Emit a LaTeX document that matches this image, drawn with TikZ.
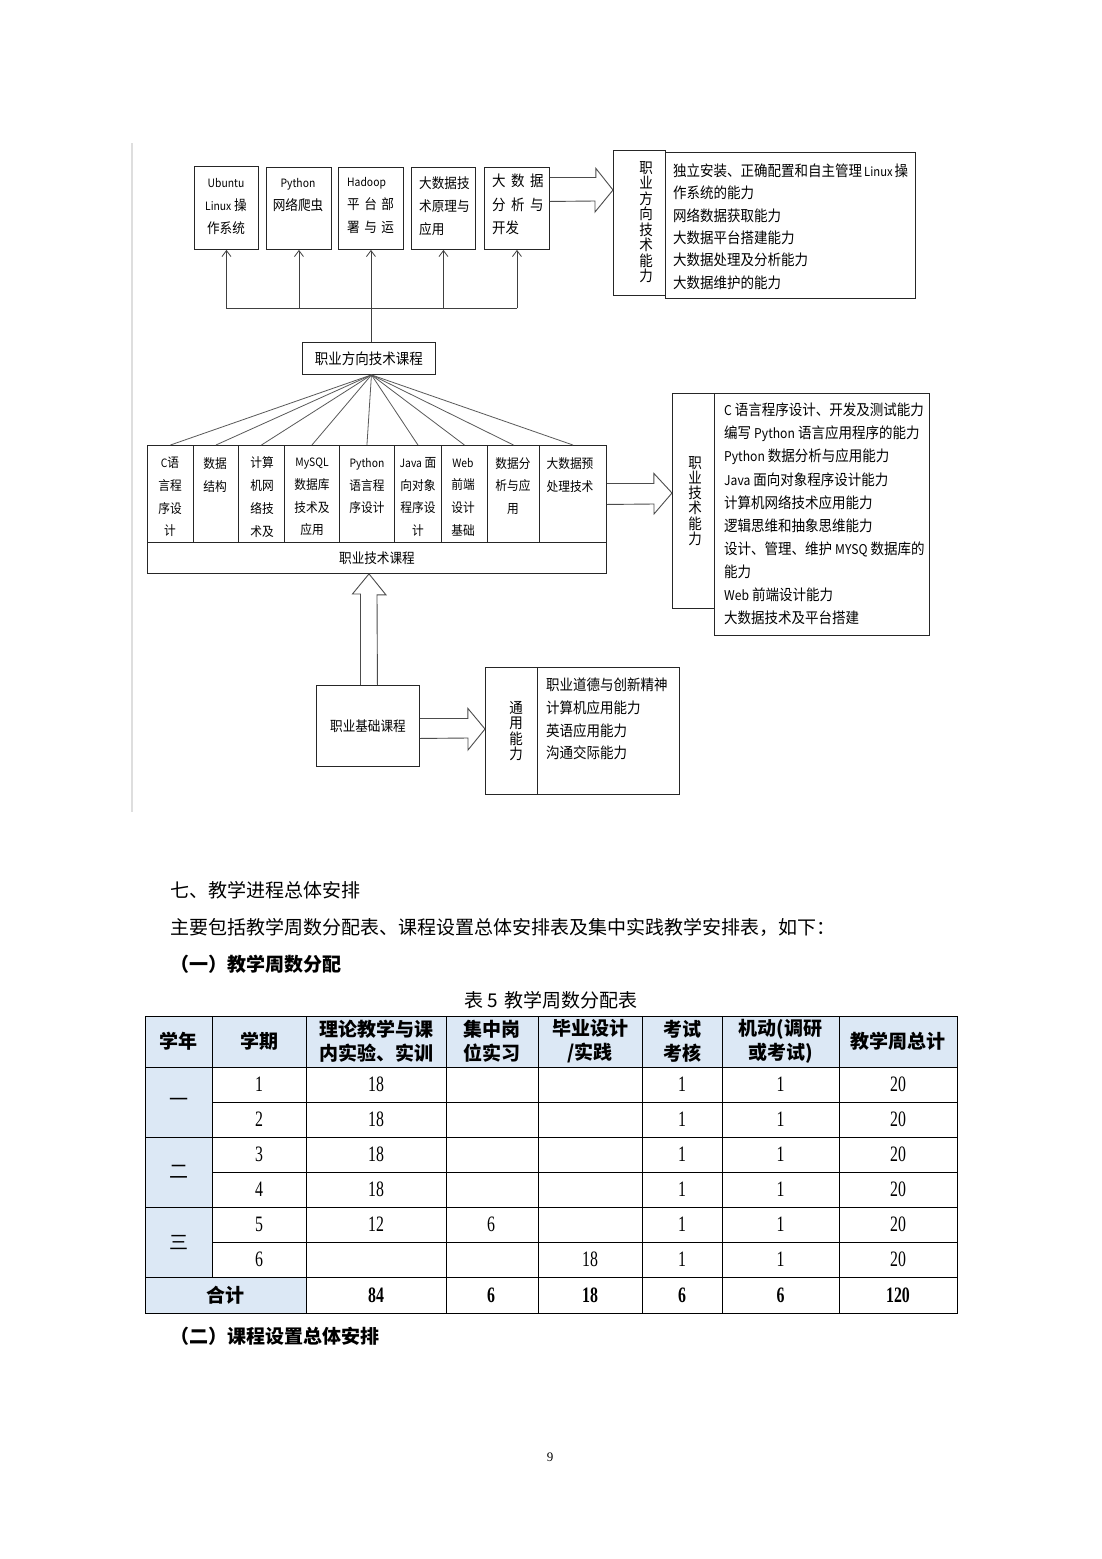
\documentclass[tikz,border=0pt]{standalone}
\usepackage{fontspec}
\setmainfont{Liberation Serif}
\newfontfamily\dfont{Noto Sans CJK SC}[FakeStretch=0.9]
\newfontfamily\cjk{Noto Sans CJK SC}
\newfontfamily\numfont{Liberation Serif}[FakeStretch=0.72]
\usetikzlibrary{arrows.meta}
\newcommand\smtxt[1]{{\fontsize{11.5}{\baselineskip}\selectfont #1}}
\newcommand\mdtxt[1]{{\fontsize{13.5}{\baselineskip}\selectfont #1}}
\newcommand\gp{\hspace{4.5pt}}
\definecolor{hdrblue}{RGB}{220,232,245}
\begin{document}
\begin{tikzpicture}[x=1pt,y=-1pt,
  box/.style={draw=black!85, line width=0.9pt, inner sep=0pt, anchor=north west},
  dt/.style={font=\dfont\fontsize{14}{23}\selectfont, inner sep=0pt, align=center},
  ct/.style={font=\dfont\fontsize{13}{22.7}\selectfont, inner sep=0pt, align=center},
  rt/.style={font=\dfont\fontsize{15}{22.6}\selectfont, inner sep=0pt, align=left, anchor=west},
  vt/.style={font=\dfont\fontsize{15}{15.5}\selectfont, inner sep=0pt, align=center},
  conn/.style={draw=black!75, line width=0.8pt},
  uparr/.style={conn, -{Straight Barb[length=6pt,width=9pt]}},
  fan/.style={draw=black!65, line width=0.8pt},
  hollow/.style={draw=black!70, line width=0.9pt, line join=miter},
  grid/.style={draw=black, line width=0.9pt},
  hd/.style={font=\cjk\bfseries\fontsize{19}{24}\selectfont, inner sep=0pt, align=center},
  num/.style={font=\numfont\fontsize{22}{24}\selectfont, inner sep=0pt},
  numb/.style={font=\numfont\bfseries\fontsize{22}{24}\selectfont, inner sep=0pt},
  body/.style={font=\cjk\fontsize{19}{24}\selectfont, inner sep=0pt, anchor=west},
  bodyb/.style={font=\cjk\bfseries\fontsize{19}{24}\selectfont, inner sep=0pt, anchor=west}
]
\useasboundingbox (0,0) rectangle (1102,1559);
\fill[white] (0,0) rectangle (1102,1559);

% side rule
\draw[black!13, line width=2pt] (132,143) -- (132,812);

% ---- top course boxes
\node[box, minimum width=64pt, minimum height=83pt] (t1) at (194,166) {};
\node[box, minimum width=65pt, minimum height=82pt] (t2) at (266,167) {};
\node[box, minimum width=65pt, minimum height=82pt] (t3) at (338,167) {};
\node[box, minimum width=64pt, minimum height=82pt] (t4) at (411,167) {};
\node[box, minimum width=65pt, minimum height=82pt] (t5) at (484,167) {};
\node[dt] (t1x) at (226,206) {\smtxt{Ubuntu}\\\smtxt{Linux} 操\\作系统};
\node[dt] (t2x) at (298,195.5) {\smtxt{Python}\\网络爬虫};
\node[dt, align=left, anchor=west] (t3x) at (347,206) {\smtxt{Hadoop}\\平\gp 台\gp 部\\署\gp 与\gp 运};
\node[dt, align=left, anchor=west] (t4x) at (419,206) {大数据技\\术原理与\\应用};
\node[dt, font=\dfont\fontsize{15}{23.5}\selectfont, align=left, anchor=west] (t5x) at (492,204.5) {大\hspace{5.5pt}数\hspace{5.5pt}据\\分\hspace{5.5pt}析\hspace{5.5pt}与\\开发};

% top ability boxes
\node[box, minimum width=52pt, minimum height=145pt] (l1) at (613,150) {};
\node[box, minimum width=250pt, minimum height=146pt] (r1) at (665,152) {};
\node[vt] (v1) at (646,222) {职\\业\\方\\向\\技\\术\\能\\力};
\node[rt, font=\dfont\fontsize{15}{22.4}\selectfont] (r1x) at (673,226.5) {独立安装、正确配置和自主管理\hspace{2pt}{\fontsize{12.5}{\baselineskip}\selectfont Linux}\hspace{2pt}操\\作系统的能力\\网络数据获取能力\\大数据平台搭建能力\\大数据处理及分析能力\\大数据维护的能力};

% hollow arrow to top ability box
\draw[hollow] ([yshift=31pt]t5.east) -- ++(46,0) -- ++(0,-9) -- (l1.west |- 0,190) -- ++(-18,22) -- ++(0,-11) -- ([yshift=7pt]t5.east);

% ---- direction course box and connectors
\node[box, minimum width=133pt, minimum height=32pt, font=\dfont\fontsize{15}{18}\selectfont] (pf) at (302,342) {职业方向技术课程};
\coordinate (bus) at (0,308);
\draw[conn] ([xshift=2.5pt]pf.north) -- ([xshift=2.5pt]pf.north |- bus);
\draw[conn] (t1.south |- bus) -- (t5.south |- bus);
\foreach \b in {t1,t2,t3,t4,t5} {
  \draw[uparr] (\b.south |- bus) -- (\b.south);
}

% ---- professional course boxes
\node[box, minimum width=46pt, minimum height=97pt] (c1) at (147,445) {};
\node[box, minimum width=45pt, minimum height=97pt] (c2) at (193,445) {};
\node[box, minimum width=46pt, minimum height=97pt] (c3) at (238,445) {};
\node[box, minimum width=55pt, minimum height=97pt] (c4) at (284,445) {};
\node[box, minimum width=55pt, minimum height=97pt] (c5) at (339,445) {};
\node[box, minimum width=47pt, minimum height=97pt] (c6) at (394,445) {};
\node[box, minimum width=46pt, minimum height=97pt] (c7) at (441,445) {};
\node[box, minimum width=52pt, minimum height=97pt] (c8) at (487,445) {};
\node[box, minimum width=67pt, minimum height=97pt] (c9) at (539,445) {};
\node[box, minimum width=459pt, minimum height=31pt, font=\dfont\fontsize{14}{18}\selectfont] (bar) at (147,542) {职业技术课程};

\node[ct] (c1x) at (170,497) {\smtxt{C}语\\言程\\序设\\计};
\node[ct] (c2x) at (215,475) {数据\\结构};
\node[ct] (c3x) at (262,497) {计算\\机网\\络技\\术及};
\node[ct] (c4x) at (312,497) {\smtxt{MySQL}\\数据库\\技术及\\应用};
\node[ct] (c5x) at (367,486) {\smtxt{Python}\\语言程\\序设计};
\node[ct] (c6x) at (418,497) {\smtxt{Java} 面\\向对象\\程序设\\计};
\node[ct] (c7x) at (463,497) {\smtxt{Web}\\前端\\设计\\基础};
\node[ct] (c8x) at (513,486) {数据分\\析与应\\用};
\node[ct] (c9x) at (570,475) {大数据预\\处理技术};

\foreach \b in {c1,c2,c3,c4,c5,c6,c7,c8,c9} {
  \draw[fan] ([xshift=2.5pt]pf.south) -- (\b.north);
}

% middle ability boxes
\node[box, minimum width=42pt, minimum height=215pt] (l2) at (672,393) {};
\node[box, minimum width=215pt, minimum height=242pt] (r2) at (714,393) {};
\node[vt, font=\dfont\fontsize{15}{15.3}\selectfont] (v2) at (695,501) {职\\业\\技\\术\\能\\力};
\node[rt, font=\dfont\fontsize{15}{23.1}\selectfont] (r2x) at (724,514) {\mdtxt{C} 语言程序设计、开发及测试能力\\编写 \mdtxt{Python} 语言应用程序的能力\\\mdtxt{Python} 数据分析与应用能力\\\mdtxt{Java} 面向对象程序设计能力\\计算机网络技术应用能力\\逻辑思维和抽象思维能力\\设计、管理、维护 \mdtxt{MYSQ} 数据库的\\能力\\\mdtxt{Web} 前端设计能力\\大数据技术及平台搭建};

\draw[hollow] ([yshift=10.5pt]c9.east) -- ++(47,0) -- ++(0,-10) -- (l2.west |- 0,493) -- ++(-18,21) -- ++(0,-10) -- ([yshift=-10.5pt]c9.east);

% ---- foundation course
\node[box, minimum width=103pt, minimum height=81pt, font=\dfont\fontsize{14}{18}\selectfont] (pb) at (316,685) {职业基础课程};
\node[box, minimum width=52pt, minimum height=127pt] (l3) at (485,667) {};
\node[box, minimum width=142pt, minimum height=127pt] (r3) at (537,667) {};
\node[vt] (v3) at (516,731) {通\\用\\能\\力};
\node[rt, font=\dfont\fontsize{15}{22.7}\selectfont] (r3x) at (546,719) {职业道德与创新精神\\计算机应用能力\\英语应用能力\\沟通交际能力};

\draw[hollow] ([xshift=-7.5pt]pb.north) -- ++(0,-91) -- ++(-8,0) -- (bar.south -| 369,0) -- ++(17,21) -- ++(-9,0) -- ([xshift=9.5pt]pb.north);
\draw[hollow] ([yshift=7.5pt]pb.east) -- ++(48,0) -- ++(0,-10) -- (l3.west |- 0,729) -- ++(-17,21) -- ++(0,-12) -- ([yshift=-12.5pt]pb.east);

% ---- text section
\node[body] (s1) at (170,890) {七、教学进程总体安排};
\node[body] (s2) at (170,927) {主要包括教学周数分配表、课程设置总体安排表及集中实践教学安排表，如下：};
\node[bodyb] (s3) at (170,964) {（一）教学周数分配};
\node[body, anchor=center] (cap) at (551,1000) {表 5\hspace{6pt}教学周数分配表};

% ---- table
\fill[hdrblue] (145,1016) rectangle (957,1067);
\fill[hdrblue] (145,1067) rectangle (212,1277);
\fill[hdrblue] (145,1277) rectangle (306,1313);
\draw[grid] (145,1016) rectangle (957,1313);
\foreach \y in {1067,1137,1207,1277} { \draw[grid] (145,\y) -- (957,\y); }
\foreach \y in {1102,1172,1242} { \draw[grid] (212,\y) -- (957,\y); }
\draw[grid] (212,1016) -- (212,1277);
\foreach \x in {306,446,538,642,722,839} { \draw[grid] (\x,1016) -- (\x,1313); }

\node[hd] (h1) at (178.5,1041) {学年};
\node[hd] (h2) at (259,1041) {学期};
\node[hd] (h3) at (376,1041) {理论教学与课\\内实验、实训};
\node[hd] (h4) at (492,1041) {集中岗\\位实习};
\node[hd] (h5) at (590,1041) {毕业设计\\/实践};
\node[hd] (h6) at (682,1041) {考试\\考核};
\node[hd] (h7) at (780.5,1041) {机动(调研\\或考试)};
\node[hd] (h8) at (898,1041) {教学周总计};

\node[font=\cjk\fontsize{19}{24}\selectfont, inner sep=0pt] (y1) at (178.5,1102) {一};
\node[font=\cjk\fontsize{19}{24}\selectfont, inner sep=0pt] (y2) at (178.5,1172) {二};
\node[font=\cjk\fontsize{19}{24}\selectfont, inner sep=0pt] (y3) at (178.5,1242) {三};

\foreach \r/\y in {1/1084.5,2/1119.5,3/1154.5,4/1189.5,5/1224.5,6/1259.5} {
  \node[num] (sem\r) at (259,\y) {\r};
  \node[num] (ex\r) at (682,\y) {1};
  \node[num] (fl\r) at (780.5,\y) {1};
  \node[num] (tw\r) at (898,\y) {20};
}
\foreach \r/\y/\v in {1/1084.5/18,2/1119.5/18,3/1154.5/18,4/1189.5/18,5/1224.5/12} {
  \node[num] (th\r) at (376,\y) {\v};
}
\node[num] (gw5) at (491,1224.5) {6};
\node[num] (bs6) at (590,1259.5) {18};

\node[hd] (sum) at (225,1295) {合计};
\node[numb] (s84) at (376,1295) {84};
\node[numb] (s6a) at (491,1295) {6};
\node[numb] (s18) at (590,1295) {18};
\node[numb] (s6b) at (682,1295) {6};
\node[numb] (s6c) at (780.5,1295) {6};
\node[numb] (s120) at (898,1295) {120};

\node[bodyb] (s4) at (170,1336) {（二）课程设置总体安排};
\node[font=\fontsize{13}{15}\selectfont, inner sep=0pt] (pg) at (550,1457) {9};
\end{tikzpicture}
\end{document}
